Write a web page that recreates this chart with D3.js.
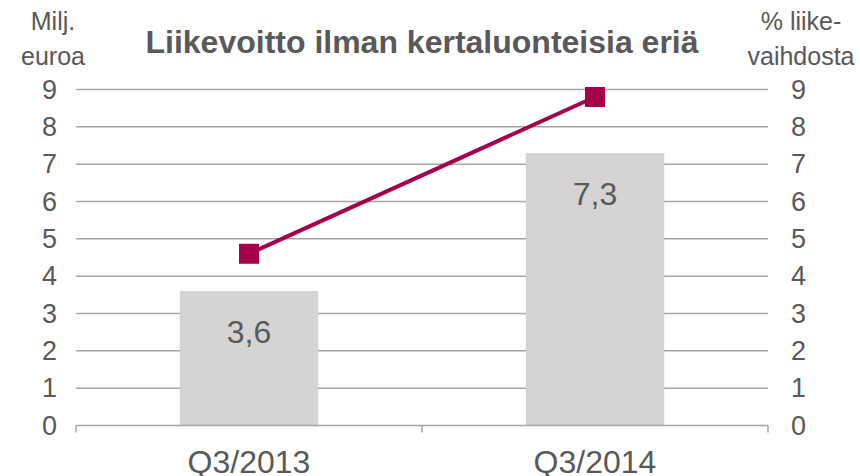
<!DOCTYPE html>
<html>
<head>
<meta charset="utf-8">
<script src="https://cdn.jsdelivr.net/npm/d3@7.9.0/dist/d3.min.js"></script>
<style>
  body { margin: 0; background: #fff; }
  svg { font-family: "Liberation Sans", Arial, sans-serif; }
</style>
</head>
<body>
<svg width="860" height="476"></svg>
<script>
// data
const categories = ['Q3/2013', 'Q3/2014'];
const profit = [3.6, 7.3];          // Milj. euroa (bars)
const margin_pct = [4.6, 8.8];      // % liikevaihdosta (line)
const barLabels = ['3,6', '7,3'];
const yTicks = [0, 1, 2, 3, 4, 5, 6, 7, 8, 9];

const svg = d3.select('svg');
const textColor = '#595959';
const font = '"Liberation Sans", Arial, sans-serif';

let x = d3.scaleBand().domain(categories).range([76, 768]).padding(0);
let y = d3.scaleLinear().domain([0, 9]).range([425.5, 89.5]);
let y2 = d3.scaleLinear().domain([0, 9]).range([425.5, 89.5]);

// gridlines
svg.append('g')
  .selectAll('line')
  .data(yTicks.filter(d => d > 0))
  .join('line')
  .attr('x1', 76).attr('x2', 768)
  .attr('y1', d => y(d)).attr('y2', d => y(d))
  .attr('stroke', '#a6a6a6').attr('stroke-width', 1.5);

// bars
const barW = x.bandwidth() * 0.4;
svg.append('g')
  .selectAll('rect')
  .data(profit)
  .join('rect')
  .attr('x', (d, i) => x(categories[i]) + (x.bandwidth() - barW) / 2)
  .attr('y', d => y(d))
  .attr('width', barW)
  .attr('height', d => y(0) - y(d))
  .attr('fill', '#d5d3d4');

// bar labels
svg.append('g')
  .selectAll('text')
  .data(profit)
  .join('text')
  .attr('x', (d, i) => x(categories[i]) + x.bandwidth() / 2)
  .attr('y', d => y(d) + 52)
  .attr('text-anchor', 'middle')
  .attr('font-size', 32)
  .attr('fill', textColor)
  .text((d, i) => barLabels[i]);

// x axis
const xAxis = svg.append('g').attr('transform', `translate(0,${y(0)})`);
xAxis.append('line').attr('x1', 76).attr('x2', 768).attr('y1', 0).attr('y2', 0)
  .attr('stroke', '#a6a6a6').attr('stroke-width', 1.5);
xAxis.selectAll('.tk')
  .data([76, 422, 768])
  .join('line')
  .attr('x1', d => d).attr('x2', d => d)
  .attr('y1', 0).attr('y2', 7)
  .attr('stroke', '#a6a6a6').attr('stroke-width', 1.5);
xAxis.selectAll('text')
  .data(categories)
  .join('text')
  .attr('x', d => x(d) + x.bandwidth() / 2)
  .attr('y', 47)
  .attr('text-anchor', 'middle')
  .attr('font-size', 32)
  .attr('fill', textColor)
  .text(d => d);

// y axes labels
const yLeft = d3.axisLeft(y).tickValues(yTicks).tickSize(0).tickPadding(0);
const gl = svg.append('g').attr('transform', 'translate(57,0)').call(yLeft);
gl.select('.domain').remove();
gl.selectAll('text').attr('font-size', 27).attr('fill', textColor)
  .attr('font-family', font);

const yRight = d3.axisRight(y2).tickValues(yTicks).tickSize(0).tickPadding(0);
const gr = svg.append('g').attr('transform', 'translate(791,0)').call(yRight);
gr.select('.domain').remove();
gr.selectAll('text').attr('font-size', 27).attr('fill', textColor)
  .attr('font-family', font);

// line
const line = d3.line()
  .x((d, i) => x(categories[i]) + x.bandwidth() / 2)
  .y(d => y2(d));
svg.append('path')
  .datum(margin_pct)
  .attr('d', line)
  .attr('fill', 'none')
  .attr('stroke', '#a6004a')
  .attr('stroke-width', 4);
svg.append('g')
  .selectAll('rect')
  .data(margin_pct)
  .join('rect')
  .attr('x', (d, i) => x(categories[i]) + x.bandwidth() / 2 - 10)
  .attr('y', d => y2(d) - 10)
  .attr('width', 20).attr('height', 20)
  .attr('fill', '#a6004a');

// titles
svg.append('text')
  .attr('x', 422).attr('y', 53)
  .attr('text-anchor', 'middle')
  .attr('font-size', 32).attr('font-weight', 'bold')
  .attr('fill', textColor)
  .text('Liikevoitto ilman kertaluonteisia eriä');

const leftT = svg.append('text').attr('text-anchor', 'middle')
  .attr('font-size', 25).attr('fill', textColor);
leftT.append('tspan').attr('x', 53).attr('y', 30).text('Milj.');
leftT.append('tspan').attr('x', 53).attr('y', 65).text('euroa');

const rightT = svg.append('text').attr('text-anchor', 'middle')
  .attr('font-size', 25).attr('fill', textColor);
rightT.append('tspan').attr('x', 801).attr('y', 30).text('% liike-');
rightT.append('tspan').attr('x', 801).attr('y', 65).text('vaihdosta');
</script>
</body>
</html>
